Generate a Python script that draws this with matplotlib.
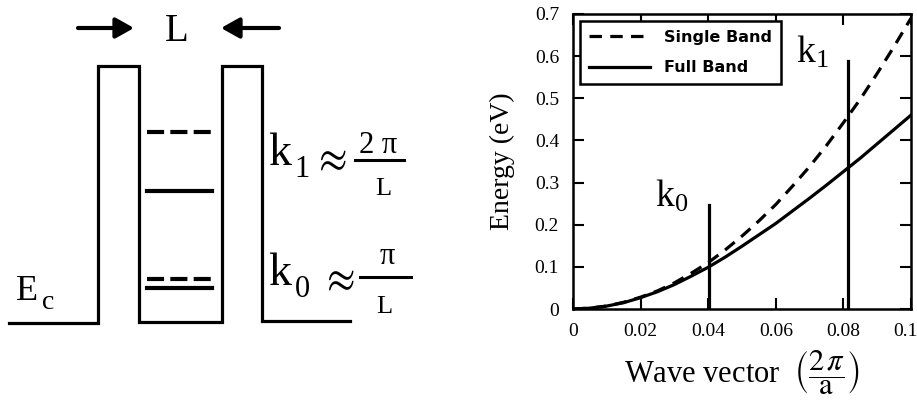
import matplotlib
matplotlib.use("Agg")
import matplotlib.pyplot as plt
from matplotlib.transforms import ScaledTranslation

plt.rcParams["font.family"] = "Liberation Serif"
plt.rcParams["mathtext.fontset"] = "stix"

# wave vector in units of 2*pi/a
k = [0.0, 0.005, 0.01, 0.015, 0.02, 0.025, 0.03, 0.035, 0.04, 0.045, 0.05,
     0.055, 0.06, 0.065, 0.07, 0.075, 0.08, 0.085, 0.09, 0.095, 0.1]
single_band = [0.0, 0.002, 0.007, 0.016, 0.028, 0.043, 0.062, 0.085, 0.110, 0.140, 0.173,
               0.209, 0.248, 0.292, 0.338, 0.388, 0.442, 0.498, 0.559, 0.623, 0.690]
full_band = [0.0, 0.002, 0.007, 0.015, 0.027, 0.041, 0.058, 0.078, 0.099, 0.123, 0.149,
             0.176, 0.203, 0.233, 0.263, 0.294, 0.326, 0.358, 0.392, 0.426, 0.460]

k0, k0_top = 0.0403, 0.247
k1, k1_top = 0.0815, 0.589

x_ticks = [0, 0.02, 0.04, 0.06, 0.08, 0.1]
x_ticklabels = ["0", "0.02", "0.04", "0.06", "0.08", "0.1"]
y_ticks = [0, 0.1, 0.2, 0.3, 0.4, 0.5, 0.6, 0.7]
y_ticklabels = ["0", "0.1", "0.2", "0.3", "0.4", "0.5", "0.6", "0.7"]

# quantum well outline (pixel units of the sketch panel)
well_x = [9, 98, 98, 139, 139, 222, 222, 262, 262, 350]
well_y = [323, 323, 66, 66, 322, 322, 66, 66, 321, 321]
level_x = [147, 212]
dashed_levels = [132, 279]
solid_levels = [191, 288]

fig = plt.figure(figsize=(9.17, 4.07), dpi=100)

# ---- left: sketch of the well ----
ax0 = fig.add_axes([0, 0, 460 / 917, 1])
ax0.set_xlim(0, 460)
ax0.set_ylim(407, 0)
ax0.axis("off")

ax0.plot(well_x, well_y, color="k", lw=2.3, solid_joinstyle="miter")
for y in dashed_levels:
    ax0.plot(level_x, [y, y], color="k", lw=3, dashes=(4.1, 1.5), dash_capstyle="butt")
for y in solid_levels:
    ax0.plot(level_x, [y, y], color="k", lw=3)

arrow = dict(arrowstyle="-|>,head_length=0.5,head_width=0.28", lw=3, color="k",
             mutation_scale=22, shrinkA=0, shrinkB=0)
ax0.annotate("", xy=(134, 28), xytext=(78, 28), arrowprops=arrow)
ax0.annotate("", xy=(221, 28), xytext=(279, 28), arrowprops=arrow)
ax0.text(177, 41, "L", fontsize=28, ha="center", va="baseline")

ax0.text(16, 300, "E", fontsize=26, ha="left", va="baseline")
ax0.text(42, 309, "c", fontsize=20, ha="left", va="baseline")

# k1 ~ 2pi/L
ax0.text(268, 165, "k", fontsize=33, ha="left", va="baseline")
ax0.text(294, 177, "1", fontsize=22, ha="left", va="baseline")
ax0.text(329, 171, r"$\approx$", fontsize=30, ha="center", va="baseline")
ax0.text(378, 153, "2 \u03c0", fontsize=22, ha="center", va="baseline")
ax0.plot([355, 404], [160, 160], color="k", lw=2.2)
ax0.text(383, 195, "L", fontsize=19, ha="center", va="baseline")

# k0 ~ pi/L
ax0.text(268, 285, "k", fontsize=33, ha="left", va="baseline")
ax0.text(295, 297, "0", fontsize=22, ha="left", va="baseline")
ax0.text(337, 291, r"$\approx$", fontsize=30, ha="center", va="baseline")
ax0.text(387, 264, "\u03c0", fontsize=22, ha="center", va="baseline")
ax0.plot([360, 411], [277, 277], color="k", lw=2.2)
ax0.text(384, 313, "L", fontsize=19, ha="center", va="baseline")

# ---- right: energy vs wave vector ----
ax = fig.add_axes([573 / 917, 98 / 407, 338 / 917, 295 / 407])
ax.plot(k, single_band, color="k", lw=2.3, dashes=(3.9, 2.6), label="Single Band")
ax.plot(k, full_band, color="k", lw=2.3, label="Full Band")
ax.plot([k0, k0], [0, k0_top], color="k", lw=2.3)
ax.plot([k1, k1], [0, k1_top], color="k", lw=2.3)
ax.text(0.0243, 0.242, r"$\mathregular{k_0}$", fontsize=27, ha="left", va="baseline")
ax.text(0.066, 0.585, r"$\mathregular{k_1}$", fontsize=27, ha="left", va="baseline")

ax.set_xlim(0, 0.1)
ax.set_ylim(0, 0.7)
ax.set_xticks(x_ticks)
ax.set_xticklabels(x_ticklabels)
ax.set_yticks(y_ticks)
ax.set_yticklabels(y_ticklabels)
ax.tick_params(direction="in", length=8, width=1.5, top=True, right=True,
               labelsize=14, pad=10)
# keep the last x label inside the figure
last = ax.get_xticklabels()[-1]
last.set_transform(last.get_transform() + ScaledTranslation(-6 / 100, 0, fig.dpi_scale_trans))
for s in ax.spines.values():
    s.set_linewidth(1.8)

ax.set_ylabel("Energy (eV)", fontsize=20, labelpad=14)
ax.set_xlabel(r"Wave vector  $\left(\dfrac{2\,\pi}{\mathrm{a}}\right)$", fontsize=22, labelpad=6)

leg = ax.legend(loc="upper left", bbox_to_anchor=(0.0, 1.0), fancybox=False,
                framealpha=1, edgecolor="k", handlelength=3.8, borderpad=0.55,
                labelspacing=0.95, handletextpad=0.9, borderaxespad=0.45,
                prop={"family": "DejaVu Sans", "size": 11.5, "weight": "bold"})
leg.get_frame().set_linewidth(1.8)

fig.savefig("out.png", dpi=100)
